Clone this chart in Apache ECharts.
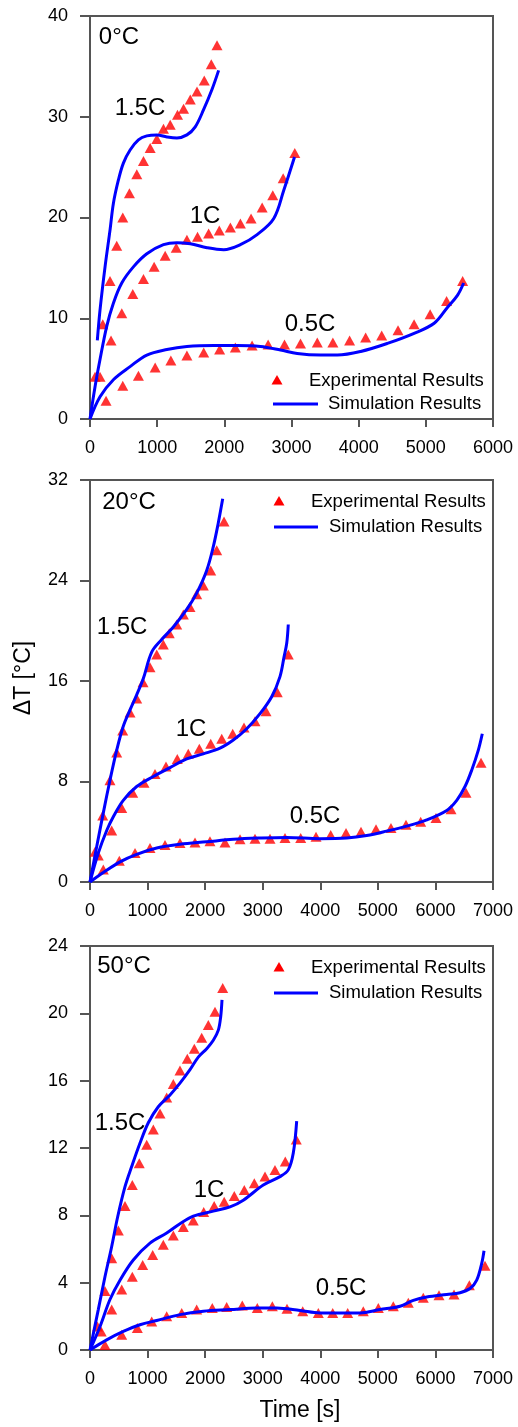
<!DOCTYPE html>
<html>
<head>
<meta charset="utf-8">
<script src="https://cdn.jsdelivr.net/npm/echarts@6/dist/echarts.min.js"></script>
<style>
html,body{margin:0;padding:0;background:#fff;}
#c{width:518px;height:1427px;}
</style>
</head>
<body>
<div id="c"></div>
<script>
// ---------- Panel 1 : 0°C ----------
const p1_exp15_t = [75,190,298,398,488,587,697,796,896,995,1094,1194,1303,1393,1493,1593,1701,1806,1891];
const p1_exp15_v = [4.2,9.4,13.7,17.2,20.0,22.4,24.3,25.6,26.9,27.8,28.8,29.2,30.2,30.8,31.7,32.5,33.6,35.2,37.1];
const p1_exp10_t = [149,313,473,637,796,955,1119,1284,1443,1601,1766,1925,2090,2239,2398,2563,2721,2876,3049];
const p1_exp10_v = [4.2,7.8,10.5,12.4,13.9,15.1,16.2,17.0,17.8,18.1,18.4,18.7,19.0,19.4,19.9,21.0,22.2,23.9,26.4];
const p1_exp05_t = [239,488,721,970,1204,1443,1693,1930,2164,2413,2652,2896,3134,3384,3616,3865,4104,4343,4586,4825,5064,5309,5548];
const p1_exp05_v = [1.8,3.3,4.3,5.1,5.8,6.3,6.6,6.9,7.1,7.3,7.4,7.4,7.5,7.6,7.6,7.8,8.1,8.3,8.8,9.4,10.4,11.7,13.7];
const p1_sim15_t = [109,149,224,299,348,422,497,597,721,846,995,1145,1294,1443,1567,1691,1816,1915];
const p1_sim15_v = [7.8,10.8,15.1,18.8,21.4,23.7,25.4,26.7,27.7,28.1,28.2,28.0,27.9,28.2,29.0,30.7,32.7,34.6];
const p1_sim10_t = [0,75,149,249,348,473,646,846,1094,1294,1493,1742,1990,2239,2488,2736,2885,3045];
const p1_sim10_v = [0,3.2,5.9,9.2,11.5,13.5,15.1,16.4,17.3,17.5,17.4,17.0,16.8,17.3,18.3,19.9,22.7,26.0];
const p1_sim05_t = [0,149,348,597,846,1145,1443,1840,2190,2537,2836,3085,3433,3682,4030,4428,4825,5124,5324,5473,5563];
const p1_sim05_v = [0,2.2,3.9,5.2,6.35,6.9,7.2,7.3,7.3,7.2,6.85,6.5,6.35,6.35,6.7,7.5,8.5,9.5,11.1,12.3,13.5];

// ---------- Panel 2 : 20°C ----------
const p2_exp15_t = [87,221,347,464,568,695,811,921,1042,1159,1273,1377,1506,1621,1737,1853,1968,2097,2201,2328];
const p2_exp15_v = [2.4,5.3,8.1,10.3,12.05,13.5,14.6,15.9,17.1,18.1,18.9,19.8,20.5,21.3,21.9,22.9,23.6,24.8,26.4,28.7];
const p2_exp10_t = [144,377,551,742,938,1129,1320,1516,1707,1899,2097,2288,2479,2675,2866,3057,3253,3444];
const p2_exp10_v = [2.1,4.1,5.9,7.1,7.9,8.6,9.2,9.8,10.2,10.6,11.0,11.4,11.8,12.3,12.8,13.6,15.1,18.1];
const p2_exp05_t = [231,509,782,1042,1303,1563,1824,2084,2345,2606,2866,3127,3387,3660,3926,4181,4447,4707,4968,5228,5489,5744,6010,6271,6531,6792];
const p2_exp05_v = [1.0,1.7,2.3,2.7,2.95,3.1,3.15,3.25,3.15,3.4,3.45,3.45,3.5,3.5,3.6,3.75,3.9,4.0,4.2,4.3,4.55,4.8,5.1,5.8,7.1,9.5];
const p2_sim15_t = [0,116,231,347,464,578,695,811,926,1072,1245,1447,1680,1853,2027,2142,2229,2305];
const p2_sim15_v = [0,2.8,5.5,8.1,10.5,12.4,13.7,14.9,16.2,18.3,19.3,20.3,21.7,23.0,24.8,26.7,28.6,30.5];
const p2_sim10_t = [0,144,290,405,578,811,1100,1390,1680,1968,2258,2489,2722,2953,3156,3300,3370,3417,3444];
const p2_sim10_v = [0,2.3,4.1,5.2,6.5,7.6,8.4,9.1,9.8,10.2,10.65,11.3,12.2,13.4,14.75,16.35,17.9,19.0,20.5];
const p2_sim05_t = [0,231,521,811,1159,1563,2027,2489,2953,3417,3995,4459,4806,5154,5501,5849,6196,6370,6514,6630,6745,6814];
const p2_sim05_v = [0,0.75,1.6,2.2,2.7,3.0,3.2,3.4,3.5,3.55,3.45,3.5,3.7,4.05,4.45,4.95,5.7,6.5,7.6,8.9,10.5,11.8];

// ---------- Panel 3 : 50°C ----------
const p3_exp15_t = [130,260,377,492,608,735,856,985,1100,1216,1332,1447,1563,1690,1812,1940,2055,2171,2305];
const p3_exp15_v = [1.4,3.5,5.45,7.1,8.55,9.8,11.1,12.2,13.1,14.05,15.0,15.8,16.6,17.3,17.9,18.55,19.3,20.1,21.5];
const p3_exp10_t = [195,377,551,735,915,1089,1273,1447,1621,1794,1975,2157,2331,2506,2680,2854,3040,3213,3392,3583];
const p3_exp10_v = [1.1,2.4,3.6,4.35,5.05,5.65,6.25,6.8,7.3,7.7,8.2,8.55,8.8,9.15,9.5,9.9,10.3,10.7,11.2,12.5];
const p3_exp05_t = [260,551,822,1072,1332,1593,1853,2124,2374,2645,2906,3167,3422,3695,3966,4216,4476,4747,5008,5268,5529,5789,6062,6323,6589,6861];
const p3_exp05_v = [0.3,0.9,1.3,1.7,2.0,2.2,2.4,2.5,2.55,2.65,2.5,2.6,2.45,2.3,2.2,2.2,2.2,2.3,2.5,2.6,2.8,3.1,3.25,3.3,3.85,5.0];
const p3_sim15_t = [0,144,260,377,480,608,724,869,1013,1186,1390,1563,1737,1881,2027,2142,2229,2270,2293];
const p3_sim15_v = [0,2.4,4.35,6.15,7.9,9.7,10.9,12.3,13.5,14.45,15.15,15.85,16.65,17.4,17.9,18.4,19.0,19.8,20.8];
const p3_sim10_t = [0,174,347,521,752,1042,1332,1563,1794,2142,2432,2663,3010,3300,3444,3531,3590];
const p3_sim10_v = [0,1.4,3.0,4.15,5.35,6.35,6.95,7.5,7.95,8.25,8.5,8.9,9.8,10.3,10.7,11.7,13.6];
const p3_sim05_t = [0,290,578,869,1159,1563,1968,2432,2896,3243,3648,3995,4343,4690,5037,5385,5616,5849,6196,6427,6601,6717,6804,6844];
const p3_sim05_v = [0,0.6,1.1,1.5,1.75,2.1,2.3,2.4,2.5,2.5,2.35,2.2,2.2,2.2,2.4,2.6,2.95,3.15,3.3,3.4,3.65,4.15,5.15,5.9];

// ---------- axes / labels ----------
const xTicks1 = ['0','1000','2000','3000','4000','5000','6000'];
const xTicks2 = ['0','1000','2000','3000','4000','5000','6000','7000'];
const yMax = [40, 32, 24];
const yStep = [10, 8, 4];
const xMax = [6000, 7000, 7000];
const panelTitles = ['0°C', '20°C', '50°C'];
const rateLabels = ['1.5C', '1C', '0.5C'];
const legendNames = ['Experimental Results', 'Simulation Results'];
const xAxisTitle = 'Time [s]';
const yAxisTitle = 'ΔT [°C]';

const zip = (t, v) => t.map((x, i) => [x, v[i]]);

const FONT = '"Liberation Sans", Arial, sans-serif';
const AXC = '#555555';
const RED = '#ff0000';
const BLUE = '#0000ff';

const grids = [
  {left: 90, width: 403, top: 16, height: 403},
  {left: 90, width: 403, top: 480, height: 402},
  {left: 90, width: 403, top: 946, height: 404}
];

const panels = [
  {exp: [zip(p1_exp15_t,p1_exp15_v), zip(p1_exp10_t,p1_exp10_v), zip(p1_exp05_t,p1_exp05_v)],
   sim: [zip(p1_sim15_t,p1_sim15_v), zip(p1_sim10_t,p1_sim10_v), zip(p1_sim05_t,p1_sim05_v)], ticks: xTicks1},
  {exp: [zip(p2_exp15_t,p2_exp15_v), zip(p2_exp10_t,p2_exp10_v), zip(p2_exp05_t,p2_exp05_v)],
   sim: [zip(p2_sim15_t,p2_sim15_v), zip(p2_sim10_t,p2_sim10_v), zip(p2_sim05_t,p2_sim05_v)], ticks: xTicks2},
  {exp: [zip(p3_exp15_t,p3_exp15_v), zip(p3_exp10_t,p3_exp10_v), zip(p3_exp05_t,p3_exp05_v)],
   sim: [zip(p3_sim15_t,p3_sim15_v), zip(p3_sim10_t,p3_sim10_v), zip(p3_sim05_t,p3_sim05_v)], ticks: xTicks2}
];

const xAxes = [], yAxes = [], series = [];
panels.forEach((p, i) => {
  xAxes.push({
    type: 'value', gridIndex: i, min: 0, max: xMax[i], interval: 1000,
    axisLine: {show: true, lineStyle: {color: AXC, width: 2}},
    axisTick: {show: true, inside: false, length: 8, lineStyle: {color: AXC, width: 2}},
    splitLine: {show: false},
    axisLabel: {color: '#000', fontSize: 18, fontFamily: FONT, margin: 20,
      formatter: (v) => p.ticks[Math.round(v / 1000)] ?? ''}
  });
  yAxes.push({
    type: 'value', gridIndex: i, min: 0, max: yMax[i], interval: yStep[i],
    axisLine: {show: true, lineStyle: {color: AXC, width: 2}},
    axisTick: {show: true, inside: false, length: 10, lineStyle: {color: AXC, width: 2}},
    splitLine: {show: false},
    axisLabel: {color: '#000', fontSize: 18, fontFamily: FONT, margin: 22}
  });
  p.exp.forEach((d) => series.push({
    name: legendNames[0], type: 'scatter', xAxisIndex: i, yAxisIndex: i, data: d,
    symbol: 'triangle', symbolSize: [11, 10], itemStyle: {color: RED}, z: 2, silent: true
  }));
  p.sim.forEach((d) => series.push({
    name: legendNames[1], type: 'line', xAxisIndex: i, yAxisIndex: i, data: d,
    smooth: 0.35, showSymbol: false, symbol: 'none',
    lineStyle: {color: BLUE, width: 3}, itemStyle: {color: BLUE}, z: 3, silent: true
  }));
});

// text annotations (centre positions)
const annot = [
  [panelTitles[0], 119, 37], [rateLabels[0], 140, 108], [rateLabels[1], 205, 216], [rateLabels[2], 310, 324],
  [panelTitles[1], 129, 502], [rateLabels[0], 122, 627], [rateLabels[1], 191, 729], [rateLabels[2], 315, 816],
  [panelTitles[2], 124, 966], [rateLabels[0], 120, 1123], [rateLabels[1], 209, 1190], [rateLabels[2], 341, 1288]
];
const graphic = annot.map(([t, x, y]) => ({
  type: 'text', x: x, y: y, z: 10,
  style: {text: t, fontSize: 24, fontFamily: FONT, fill: '#000', textAlign: 'center', textVerticalAlign: 'middle'}
}));

// legends
const legPos = [
  {tx: 277, ty: 380, t1x: 309, t1y: 381, lx1: 273, lx2: 318, ly: 404, t2x: 328},
  {tx: 279, ty: 501, t1x: 311, t1y: 502, lx1: 274, lx2: 318, ly: 527, t2x: 329},
  {tx: 279, ty: 967, t1x: 311, t1y: 968, lx1: 274, lx2: 318, ly: 993, t2x: 329}
];
legPos.forEach((L) => {
  graphic.push({type: 'polygon', z: 10, shape: {points: [[L.tx - 5.5, L.ty + 4.5], [L.tx + 5.5, L.ty + 4.5], [L.tx, L.ty - 5]]}, style: {fill: RED}});
  graphic.push({type: 'text', x: L.t1x, y: L.t1y, z: 10, style: {text: legendNames[0], fontSize: 18.5, fontFamily: FONT, fill: '#000', textAlign: 'left', textVerticalAlign: 'middle'}});
  graphic.push({type: 'line', z: 10, shape: {x1: L.lx1, y1: L.ly, x2: L.lx2, y2: L.ly}, style: {stroke: BLUE, lineWidth: 3}});
  graphic.push({type: 'text', x: L.t2x, y: L.ly, z: 10, style: {text: legendNames[1], fontSize: 18.5, fontFamily: FONT, fill: '#000', textAlign: 'left', textVerticalAlign: 'middle'}});
});

// axis titles
graphic.push({type: 'text', x: 300, y: 1411, z: 10, style: {text: xAxisTitle, fontSize: 23, fontFamily: FONT, fill: '#000', textAlign: 'center', textVerticalAlign: 'middle'}});
graphic.push({type: 'text', x: 24, y: 678, rotation: Math.PI / 2, z: 10, style: {text: yAxisTitle, fontSize: 23, fontFamily: FONT, fill: '#000', textAlign: 'center', textVerticalAlign: 'middle'}});

const chart = echarts.init(document.getElementById('c'), null, {renderer: 'canvas'});
chart.setOption({
  animation: false,
  backgroundColor: '#fff',
  grid: grids.map(g => Object.assign({show: true, borderColor: AXC, borderWidth: 2, backgroundColor: 'transparent', containLabel: false}, g)),
  xAxis: xAxes,
  yAxis: yAxes,
  series: series,
  graphic: graphic
});
</script>
</body>
</html>
